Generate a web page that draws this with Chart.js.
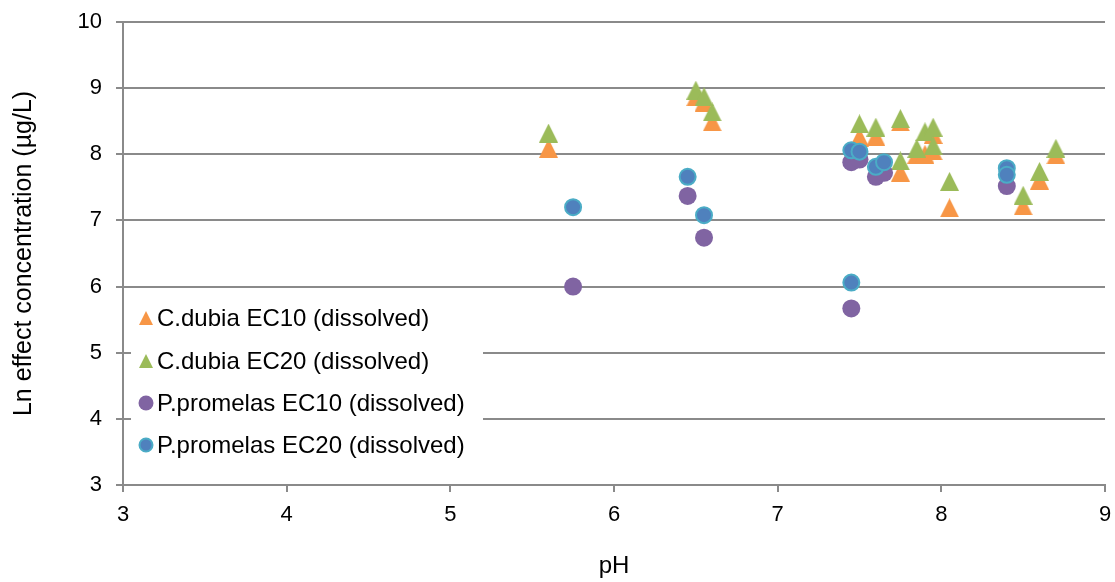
<!DOCTYPE html>
<html>
<head>
<meta charset="utf-8">
<script src="https://cdn.jsdelivr.net/npm/chart.js@4"></script>
<style>
  html, body { margin: 0; padding: 0; background: #fff; }
</style>
</head>
<body>
<canvas id="myChart" width="1115" height="582"></canvas>
<script>
// series names (legend order)
const seriesNames = [
    'C.dubia EC10 (dissolved)',
    'C.dubia EC20 (dissolved)',
    'P.promelas EC10 (dissolved)',
    'P.promelas EC20 (dissolved)'
];

// C.dubia: same pH for EC10 and EC20
const dubiaPh   = [5.6, 6.5, 6.55, 6.6, 7.5, 7.6, 7.75, 7.75, 7.85, 7.9, 7.95, 7.95, 8.05, 8.5, 8.6, 8.7];
const dubiaEC10 = [8.09, 8.87, 8.79, 8.49, 8.26, 8.27, 8.49, 7.73, 8.0, 8.0, 8.3, 8.05, 7.19, 7.22, 7.61, 7.99];
const dubiaEC20 = [8.32, 8.97, 8.87, 8.64, 8.46, 8.41, 8.54, 7.9, 8.09, 8.34, 8.41, 8.13, 7.59, 7.38, 7.74, 8.09];

// P.promelas
const promelasPh10 = [5.75, 6.45, 6.55, 7.45, 7.45, 7.5, 7.6, 7.65, 8.4];
const promelasEC10 = [6.0, 7.37, 6.74, 7.88, 5.67, 7.92, 7.66, 7.72, 7.52];
const promelasPh20 = [5.75, 6.45, 6.55, 7.45, 7.45, 7.5, 7.6, 7.65, 8.4, 8.4];
const promelasEC20 = [7.2, 7.66, 7.08, 8.06, 6.06, 8.04, 7.81, 7.88, 7.79, 7.69];

// axis ranges
const xMin = 3, xMax = 9;
const yMin = 3, yMax = 10;

const colors = {
    orange: '#F79646',
    green: '#9BBB59',
    purple: '#8064A2',
    blue: '#4F81BD',
    aqua: '#4BACC6'
};

const FONT = '"Liberation Sans", Arial, sans-serif';

// triangle marker, as tall as it is wide (like the Excel one)
function triangleImg(color, size) {
    const c = document.createElement('canvas');
    c.width = size; c.height = size;
    const g = c.getContext('2d');
    g.fillStyle = color;
    g.beginPath();
    g.moveTo(size / 2, 0);
    g.lineTo(size, size);
    g.lineTo(0, size);
    g.closePath();
    g.fill();
    return c;
}

const pts = (xs, ys) => xs.map((x, i) => ({ x: x, y: ys[i] }));

// legend drawn inside the plot, on a white box
const legendBox = {
    id: 'legendBox',
    afterDraw(chart) {
        const ctx = chart.ctx;
        ctx.save();
        ctx.fillStyle = '#fff';
        ctx.fillRect(131, 296, 352, 172);
        ctx.font = '24px ' + FONT;
        ctx.fillStyle = '#000';
        ctx.textBaseline = 'middle';
        const rows = [318, 361, 403, 445];
        rows.forEach((y, i) => {
            if (i < 2) {
                ctx.drawImage(triangleImg(i === 0 ? colors.orange : colors.green, 14), 139, y - 7);
            } else {
                ctx.beginPath();
                ctx.arc(146, y, i === 2 ? 7.5 : 6.5, 0, Math.PI * 2);
                ctx.fillStyle = i === 2 ? colors.purple : colors.blue;
                ctx.fill();
                if (i === 3) {
                    ctx.lineWidth = 2;
                    ctx.strokeStyle = colors.aqua;
                    ctx.stroke();
                }
                ctx.fillStyle = '#000';
            }
            ctx.fillText(seriesNames[i], 157, y + 1);
        });
        ctx.restore();
    }
};

const ctx = document.getElementById('myChart').getContext('2d');
const myChart = new Chart(ctx, {
    type: 'scatter',
    data: {
        datasets: [
            {
                label: seriesNames[0],
                data: pts(dubiaPh, dubiaEC10),
                pointStyle: triangleImg(colors.orange, 19),
                backgroundColor: colors.orange,
                order: 4
            },
            {
                label: seriesNames[1],
                data: pts(dubiaPh, dubiaEC20),
                pointStyle: triangleImg(colors.green, 19),
                backgroundColor: colors.green,
                order: 3
            },
            {
                label: seriesNames[2],
                data: pts(promelasPh10, promelasEC10),
                pointStyle: 'circle',
                pointRadius: 9,
                backgroundColor: colors.purple,
                borderColor: colors.purple,
                borderWidth: 0,
                order: 2
            },
            {
                label: seriesNames[3],
                data: pts(promelasPh20, promelasEC20),
                pointStyle: 'circle',
                pointRadius: 8,
                backgroundColor: colors.blue,
                borderColor: colors.aqua,
                borderWidth: 2,
                order: 1
            }
        ]
    },
    options: {
        responsive: false,
        animation: false,
        devicePixelRatio: 1,
        events: [],
        layout: { padding: { top: 22, right: 10, left: 0, bottom: 0 } },
        plugins: {
            legend: { display: false },
            tooltip: { enabled: false }
        },
        scales: {
            x: {
                type: 'linear',
                min: xMin, max: xMax,
                ticks: { stepSize: 1, color: '#000', padding: 10, font: { family: FONT, size: 22 } },
                grid: { drawOnChartArea: false, drawTicks: true, tickLength: 7, color: '#8a8a8a', lineWidth: 2 },
                border: { color: '#8a8a8a', width: 2 },
                title: { display: true, text: 'pH', color: '#000', font: { family: FONT, size: 24 }, padding: { top: 0, bottom: 1 } },
                afterFit(scale) {
                    scale.height = 97;
                    scale.paddingLeft = 0;
                    scale.paddingRight = 0;
                }
            },
            y: {
                min: yMin, max: yMax,
                ticks: { stepSize: 1, color: '#000', padding: 14, font: { family: FONT, size: 22 } },
                grid: { color: '#8a8a8a', lineWidth: 2, tickLength: 7 },
                border: { color: '#8a8a8a', width: 2 },
                title: { display: true, text: 'Ln effect concentration (µg/L)', color: '#000', font: { family: FONT, size: 25 }, padding: { top: 9, bottom: 0 } },
                afterFit(scale) {
                    scale.width = 123;
                    scale.paddingTop = 0;
                    scale.paddingBottom = 0;
                }
            }
        }
    },
    plugins: [legendBox]
});
</script>
</body>
</html>
